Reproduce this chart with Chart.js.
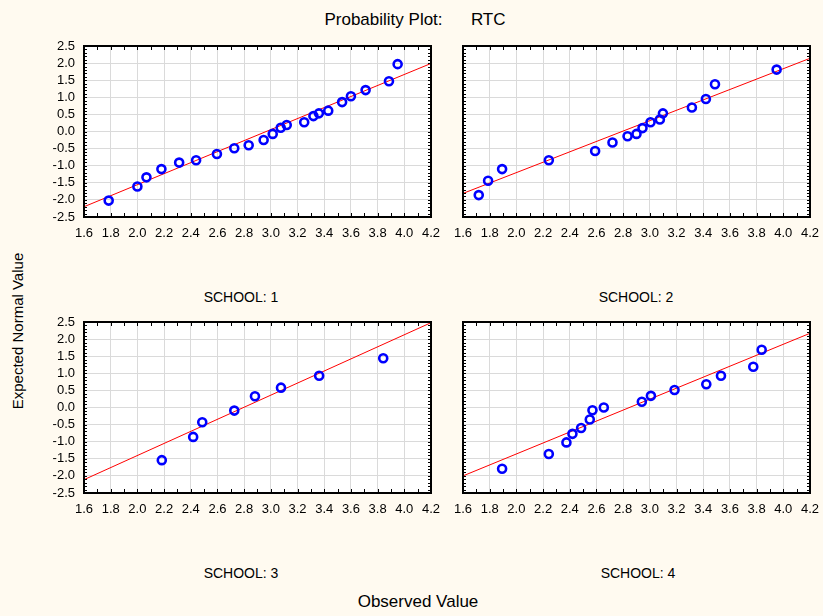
<!DOCTYPE html>
<html>
<head>
<meta charset="utf-8">
<script src="https://cdn.jsdelivr.net/npm/chart.js@4/dist/chart.umd.min.js"></script>
<style>
  html, body { margin: 0; padding: 0; }
  body { width: 823px; height: 616px; background: #FFFAF0; position: relative; overflow: hidden;
         font-family: "Liberation Sans", Arial, sans-serif; color: #000; }
  canvas { position: absolute; }
  .t { position: absolute; white-space: pre; line-height: 1; transform: translate(-50%, -50%); }
</style>
</head>
<body>
<div class="t" style="left:415px; top:19px; font-size:17px;">Probability Plot:      RTC</div>
<div class="t" style="left:241px; top:297px; font-size:14px;">SCHOOL: 1</div>
<div class="t" style="left:636px; top:297px; font-size:14px;">SCHOOL: 2</div>
<div class="t" style="left:241px; top:573px; font-size:14px;">SCHOOL: 3</div>
<div class="t" style="left:638px; top:573px; font-size:14px;">SCHOOL: 4</div>
<div class="t" style="left:418px; top:601px; font-size:17px;">Observed Value</div>
<div class="t" style="left:17px; top:331px; font-size:15px; transform: translate(-50%, -50%) rotate(-90deg);">Expected Normal Value</div>

<canvas id="c1" width="411" height="219" style="left:40px; top:28px;"></canvas>
<canvas id="c2" width="411" height="219" style="left:419px; top:28px;"></canvas>
<canvas id="c3" width="411" height="219" style="left:40px; top:304px;"></canvas>
<canvas id="c4" width="411" height="219" style="left:419px; top:304px;"></canvas>

<script>
// ---- tick labels ----
const xTickLabels = ['1.6','1.8','2.0','2.2','2.4','2.6','2.8','3.0','3.2','3.4','3.6','3.8','4.0','4.2'];
const yTickLabels = ['-2.5','-2.0','-1.5','-1.0','-0.5','0.0','0.5','1.0','1.5','2.0','2.5'];
const xMinorTicks = [1.6,1.7,1.8,1.9,2.0,2.1,2.2,2.3,2.4,2.5,2.6,2.7,2.8,2.9,3.0,3.1,3.2,3.3,3.4,3.5,3.6,3.7,3.8,3.9,4.0,4.1,4.2];
const yMinorTicks = [-2.5,-2.4,-2.3,-2.2,-2.1,-2.0,-1.9,-1.8,-1.7,-1.6,-1.5,-1.4,-1.3,-1.2,-1.1,-1.0,-0.9,-0.8,-0.7,-0.6,-0.5,-0.4,-0.3,-0.2,-0.1,0.0,0.1,0.2,0.3,0.4,0.5,0.6,0.7,0.8,0.9,1.0,1.1,1.2,1.3,1.4,1.5,1.6,1.7,1.8,1.9,2.0,2.1,2.2,2.3,2.4,2.5];

// ---- series: observed value (x) and expected normal value (y) ----
const school1Observed = [1.785,2.00,2.068,2.18,2.313,2.44,2.596,2.726,2.834,2.946,3.014,3.074,3.119,3.25,3.319,3.36,3.43,3.534,3.60,3.71,3.885,3.95];
const school1Expected = [-2.02,-1.61,-1.34,-1.10,-0.91,-0.84,-0.66,-0.49,-0.40,-0.25,-0.07,0.11,0.19,0.27,0.45,0.53,0.61,0.86,1.03,1.21,1.47,1.97];
const school1LineX = [1.6, 4.2];
const school1LineY = [-2.20, 1.99];

const school2Observed = [1.718,1.788,1.893,2.243,2.59,2.72,2.833,2.90,2.945,3.005,3.075,3.098,3.315,3.42,3.488,3.95];
const school2Expected = [-1.86,-1.44,-1.10,-0.84,-0.57,-0.32,-0.14,-0.07,0.10,0.27,0.35,0.53,0.70,0.95,1.38,1.81];
const school2LineX = [1.6, 4.2];
const school2LineY = [-1.81, 2.14];

const school3Observed = [2.183,2.418,2.486,2.726,2.881,3.076,3.362,3.842];
const school3Expected = [-1.54,-0.86,-0.43,-0.09,0.33,0.58,0.93,1.44];
const school3LineX = [1.6, 4.2];
const school3LineY = [-2.11, 2.48];

const school4Observed = [1.893,2.243,2.375,2.42,2.485,2.55,2.57,2.655,2.94,3.008,3.185,3.423,3.533,3.775,3.838];
const school4Expected = [-1.79,-1.36,-1.02,-0.77,-0.60,-0.35,-0.08,0.00,0.17,0.34,0.51,0.68,0.93,1.19,1.69];
const school4LineX = [1.6, 4.2];
const school4LineY = [-2.00, 2.17];

Chart.defaults.font.family = '"Liberation Sans", Arial, sans-serif';
Chart.defaults.font.size = 13;
Chart.defaults.color = '#000';

const framePlugin = {
  id: 'frame',
  beforeDraw(chart) {
    const {ctx, chartArea: a} = chart;
    ctx.save();
    ctx.fillStyle = '#FFFFFF';
    ctx.fillRect(a.left, a.top, a.right - a.left, a.bottom - a.top);
    ctx.restore();
  },
  afterDatasetsDraw(chart) {
    const {ctx, chartArea: a, scales} = chart;
    const x = scales.x, y = scales.y;
    ctx.save();
    ctx.strokeStyle = '#000';
    ctx.lineWidth = 1;
    ctx.beginPath();
    xMinorTicks.forEach(v => {
      const px = Math.round(x.getPixelForValue(v)) + 0.5;
      ctx.moveTo(px, a.bottom); ctx.lineTo(px, a.bottom - 4);
      ctx.moveTo(px, a.top); ctx.lineTo(px, a.top + 4);
    });
    yMinorTicks.forEach(v => {
      const py = Math.round(y.getPixelForValue(v)) + 0.5;
      ctx.moveTo(a.left, py); ctx.lineTo(a.left + 3, py);
      ctx.moveTo(a.right, py); ctx.lineTo(a.right - 3, py);
    });
    ctx.stroke();
    ctx.lineWidth = 2;
    ctx.strokeRect(a.left, a.top, a.right - a.left, a.bottom - a.top);
    ctx.restore();
  }
};

function makePanel(id, xs, ys, lx, ly, showY) {
  const pts = xs.map((v, i) => ({x: v, y: ys[i]}));
  const line = lx.map((v, i) => ({x: v, y: ly[i]}));
  new Chart(document.getElementById(id), {
    type: 'scatter',
    data: {
      datasets: [
        { data: pts, order: 0, showLine: false, pointStyle: 'circle', pointRadius: 4, pointHoverRadius: 4,
          borderColor: '#0000FF', backgroundColor: 'rgba(0,0,0,0)', borderWidth: 2.6 },
        { data: line, order: 1, showLine: true, pointRadius: 0, borderColor: '#FF0000',
          borderWidth: 1, fill: false }
      ]
    },
    options: {
      responsive: false, animation: false, devicePixelRatio: 1,
      layout: { padding: { left: 0, top: 18, right: 20, bottom: 0 } },
      plugins: { legend: { display: false }, tooltip: { enabled: false }, title: { display: false } },
      scales: {
        x: {
          type: 'linear', min: 1.6, max: 4.2,
          afterBuildTicks: s => { s.ticks = xTickLabels.map(l => ({value: Number(l)})); },
          afterFit: s => { s.height = 30; },
          ticks: { autoSkip: false, maxRotation: 0, padding: 9, callback: (v, i) => xTickLabels[i] },
          grid: { color: '#DADADA', lineWidth: 1, drawTicks: false },
          border: { display: false }
        },
        y: {
          type: 'linear', min: -2.5, max: 2.5,
          afterBuildTicks: s => { s.ticks = yTickLabels.map(l => ({value: Number(l)})); },
          afterFit: s => { s.width = 44; },
          ticks: { display: showY, autoSkip: false, padding: 9, callback: (v, i) => yTickLabels[i] },
          grid: { color: '#DADADA', lineWidth: 1, drawTicks: false },
          border: { display: false }
        }
      }
    },
    plugins: [framePlugin]
  });
}

makePanel('c1', school1Observed, school1Expected, school1LineX, school1LineY, true);
makePanel('c2', school2Observed, school2Expected, school2LineX, school2LineY, false);
makePanel('c3', school3Observed, school3Expected, school3LineX, school3LineY, true);
makePanel('c4', school4Observed, school4Expected, school4LineX, school4LineY, false);
</script>
</body>
</html>
